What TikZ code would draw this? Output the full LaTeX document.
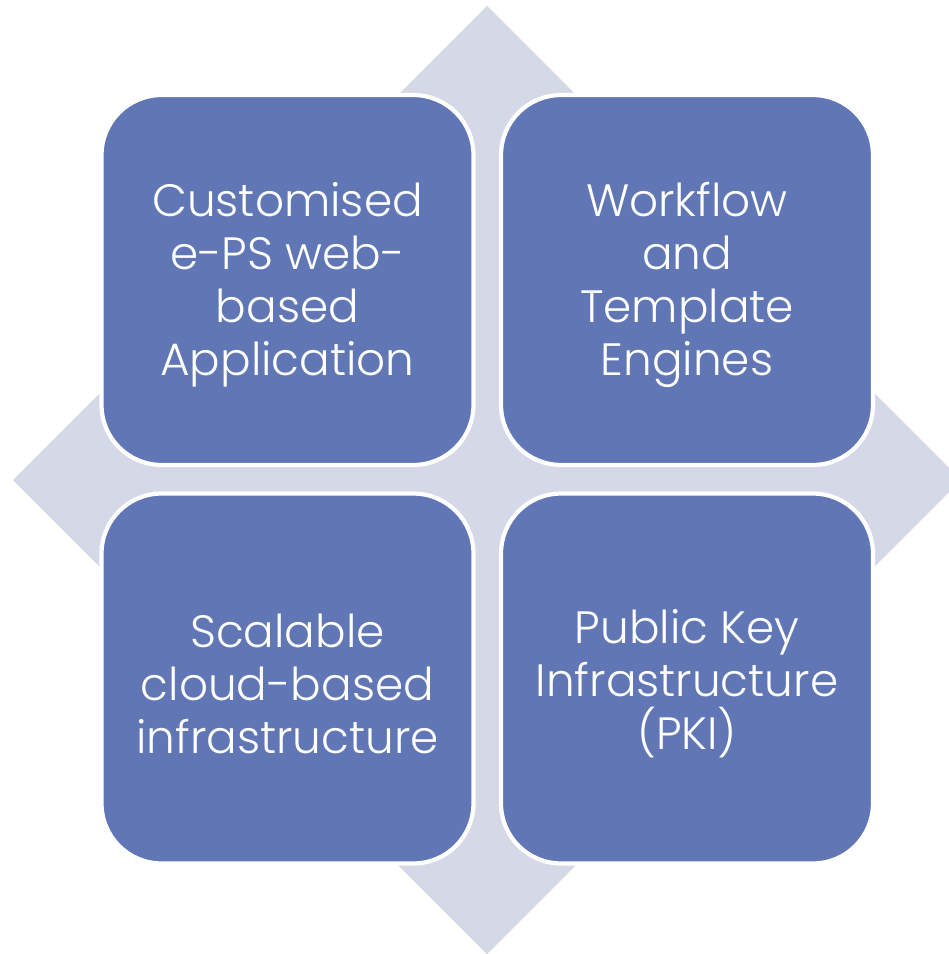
\documentclass[tikz,border=0pt]{standalone}
\usepackage{fontspec}
\setmainfont{Poppins Light}
\usepackage{tikz}
\usetikzlibrary{positioning}

\definecolor{tileblue}{HTML}{6076B5}
\definecolor{diamondgray}{HTML}{D4D8E7}

\begin{document}
\begin{tikzpicture}[
  x=0.02cm, y=-0.02cm,
  every node/.style={font=\fontsize{25.8}{30.2}\selectfont},
  tile/.style={draw=white, line width=2.4pt, fill=tileblue,
    rounded corners=1.2cm, minimum width=7.44cm, minimum height=7.4cm,
    inner sep=0pt},
  caption/.style={text=white, align=center, inner sep=0pt},
  backdrop/.style={fill=diamondgray}
]
\useasboundingbox (0,0) rectangle (949,954);

% Background diamond
\fill[backdrop] (487,6) -- (13,480) -- (487,954) -- (961,480) -- cycle;

% Top row
\node[tile] (custom) at (287.5,280) {};
\node[tile] (engines) at (687,280) {};

% Bottom row
\node[tile] (cloud) at (287.5,678.5) {};
\node[tile] (pki) at (687,678.5) {};

% Texts, a little below the tile centres
\node[caption] (custom-text) at ([yshift=-0.1cm]custom.center) {Customised\\e-PS web-\\based\\Application};
\node[caption] (engines-text) at ([yshift=-0.1cm]engines.center) {Workflow\\and\\Template\\Engines};
\node[caption] (cloud-text) at ([yshift=-0.1cm]cloud.center) {Scalable\\cloud-based\\infrastructure};
\node[caption] (pki-text) at ([yshift=-0.1cm]pki.center) {Public Key\\Infrastructure\\(PKI)};

\end{tikzpicture}
\end{document}
